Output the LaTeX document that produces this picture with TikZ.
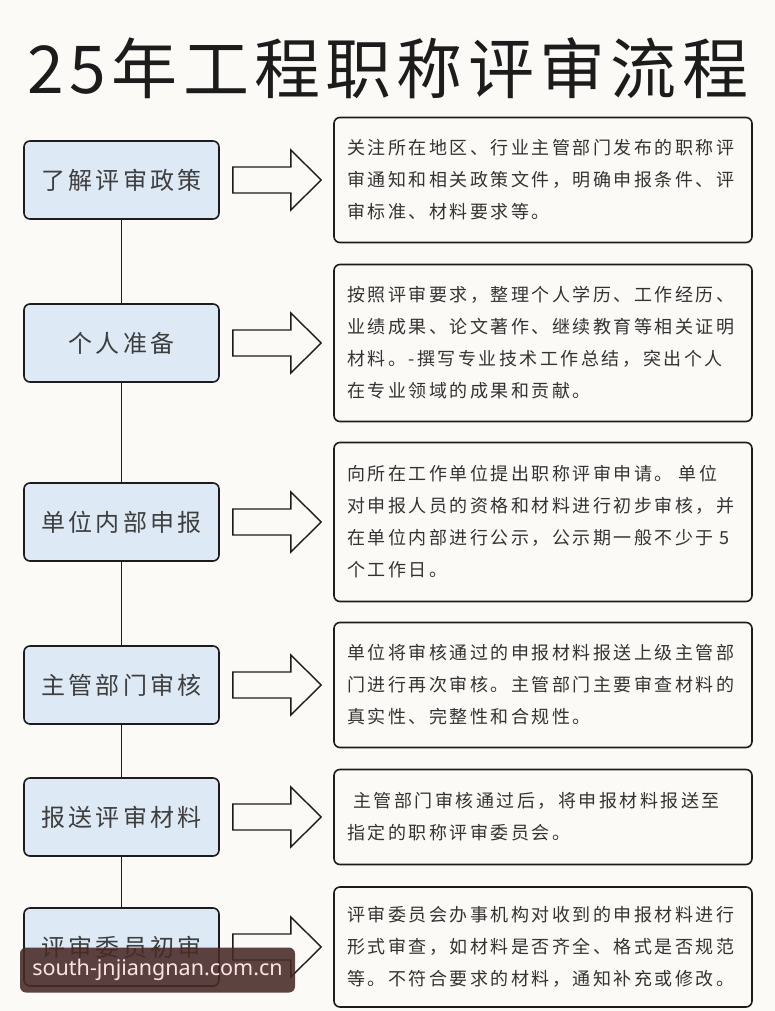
\documentclass[tikz,border=0pt]{standalone}
\usepackage{fontspec}
\usepackage{tikz}
\usetikzlibrary{positioning,calc}
\newfontfamily\cjk[LetterSpace=14]{Noto Sans CJK SC}
\newfontfamily\cjktitle[LetterSpace=8]{Noto Sans CJK SC}
\newfontfamily\wmfont{Noto Sans}
\definecolor{stepfill}{RGB}{221,233,245}
\definecolor{paper}{RGB}{251,250,247}
\definecolor{ink}{RGB}{28,28,28}
\definecolor{wmbg}{RGB}{72,42,38}
\definecolor{wmtext}{RGB}{250,228,228}

\begin{document}
\begin{tikzpicture}[x=1pt,y=-1pt,
  stepbox/.style={draw=ink,line width=1.6pt,rounded corners=6pt,fill=stepfill,minimum width=195pt,minimum height=78pt,text=ink!85,font=\cjk\fontsize{24}{28}\selectfont},
  descbox/.style={draw=ink,line width=1.6pt,rounded corners=6pt,fill=paper,text width=392pt,inner xsep=13pt,align=left,text=ink!90,font=\cjk\fontsize{18}{32}\selectfont},
  blockarrow/.style={draw=ink,line width=1.4pt,fill=paper}]
  \fill[paper] (0,0) rectangle (775,1011);
  \useasboundingbox (0,0) rectangle (775,1011);
  % Title
  \node[font=\cjktitle\fontsize{66}{70}\selectfont,text=ink] (title) at (388,68) {25年工程职称评审流程};
  % Steps and descriptions
  \foreach \y/\h/\name/\desc [count=\i] in {
    180/125/了解评审政策/{关注所在地区、行业主管部门发布的职称评\\审通知和相关政策文件，明确申报条件、评\\审标准、材料要求等。},
    343/157/个人准备/{按照评审要求，整理个人学历、工作经历、\\业绩成果、论文著作、继续教育等相关证明\\材料。-撰写专业技术工作总结，突出个人\\在专业领域的成果和贡献。},
    522/159/单位内部申报/{向所在工作单位提出职称评审申请。 单位\\对申报人员的资格和材料进行初步审核，并\\在单位内部进行公示，公示期一般不少于 5\\个工作日。},
    685/125/主管部门审核/{单位将审核通过的申报材料报送上级主管部\\门进行再次审核。主管部门主要审查材料的\\真实性、完整性和合规性。},
    817/95/报送评审材料/{\hspace{6pt}主管部门审核通过后，将申报材料报送至\\指定的职称评审委员会。},
    947/120/评审委员初审/{评审委员会办事机构对收到的申报材料进行\\形式审查，如材料是否齐全、格式是否规范\\等。不符合要求的材料，通知补充或修改。}}{
    \node[stepbox] (s\i) at (121.5,\y) {\name};
    \node[descbox,minimum height=\h pt] (d\i) at (543,\y) {\desc};
    \draw[blockarrow] ($(s\i.east)+(13,-13)$) -- ++(58,0) -- ++(0,-17)
      -- ($(d\i.west)+(-12,0)$) -- ($(s\i.east)+(71,30)$) -- ++(0,-17) -- ++(-58,0) -- cycle;
  }
  % Connectors
  \foreach \i/\j in {1/2,2/3,3/4,4/5,5/6}
    \draw[ink,line width=1.6pt] (s\i.south) -- (s\j.north);
  % Watermark
  \node[fill=wmbg,fill opacity=0.88,text opacity=1,text=wmtext,rounded corners=6pt,minimum width=275pt,minimum height=45pt,font=\wmfont\fontsize{21.5}{24}\selectfont] (wm) at (157.5,970) {south-jnjiangnan.com.cn};
\end{tikzpicture}
\end{document}
